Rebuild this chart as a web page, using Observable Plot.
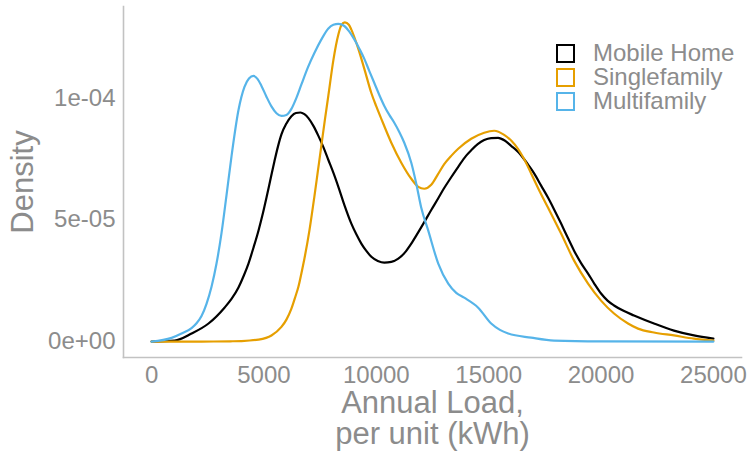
<!DOCTYPE html>
<html>
<head>
<meta charset="utf-8">
<script src="https://cdn.jsdelivr.net/npm/d3@7"></script>
<script src="https://cdn.jsdelivr.net/npm/@observablehq/plot@0.6"></script>
<style>
  body { margin: 0; background: white; }
  #wrap { position: relative; width: 751px; height: 459px; font-family: "Liberation Sans", Arial, sans-serif; }
  #wrap svg g[aria-label="x-axis label"] text,
  #wrap svg g[aria-label="y-axis label"] text { font-size: 31px; }
  #legend { position: absolute; left: 556px; top: 41px; color: #8c8c8c; font-size: 24px; }
  .row { display: flex; align-items: center; height: 24px; line-height: 24px; white-space: nowrap; }
  .row span { display: inline-block; height: 24px; line-height: 24px; }
  .sw { width: 15px; height: 15px; border: 2px solid; margin-right: 18px; box-sizing: content-box; }
</style>
</head>
<body>
<div id="wrap"></div>
<script>
const series = ["Mobile Home", "Singlefamily", "Multifamily"];
const colors = ["#000000", "#E69F00", "#56B4E9"];
const xTicks = [0, 5000, 10000, 15000, 20000, 25000];
const yTicks = [0, 5e-5, 1e-4];
const yTickLabels = ["0e+00", "5e-05", "1e-04"];

const mobileLoad = [0,1022,1778,2533,3244,3556,3867,4100,4311,4533,4756,4950,5111,5300,5467,5622,5778,6000,6222,6422,6622,6800,6978,7200,7422,7644,7867,8100,8311,8600,8889,9111,9333,9556,9778,10067,10356,10667,10978,11267,11556,11844,12133,12444,12756,13000,13244,13644,14000,14222,14511,14800,15111,15422,15711,16000,16289,16578,16800,17022,17333,17644,17933,18222,18511,18800,19111,19422,19711,20000,20289,20578,21000,21467,22356,23244,24133,25000];
const mobileDensity = [0,0.04e-5,0.33e-5,0.74e-5,1.39e-5,1.75e-5,2.22e-5,2.70e-5,3.20e-5,3.85e-5,4.55e-5,5.25e-5,5.90e-5,6.70e-5,7.40e-5,8.00e-5,8.50e-5,8.95e-5,9.25e-5,9.38e-5,9.40e-5,9.33e-5,9.17e-5,8.85e-5,8.44e-5,7.98e-5,7.45e-5,6.90e-5,6.35e-5,5.55e-5,4.84e-5,4.40e-5,4.02e-5,3.72e-5,3.48e-5,3.31e-5,3.24e-5,3.27e-5,3.40e-5,3.65e-5,4.02e-5,4.45e-5,4.90e-5,5.40e-5,5.88e-5,6.27e-5,6.62e-5,7.17e-5,7.63e-5,7.85e-5,8.10e-5,8.27e-5,8.35e-5,8.36e-5,8.25e-5,8.03e-5,7.80e-5,7.48e-5,7.20e-5,6.90e-5,6.40e-5,5.90e-5,5.38e-5,4.84e-5,4.28e-5,3.73e-5,3.22e-5,2.79e-5,2.36e-5,1.97e-5,1.68e-5,1.48e-5,1.26e-5,1.07e-5,0.74e-5,0.45e-5,0.25e-5,0.12e-5];

const singleLoad = [0,2222,3500,4000,4756,5333,5778,6000,6222,6400,6533,6700,6800,7022,7244,7400,7556,7711,7867,8089,8311,8444,8600,8778,8889,9200,9467,9778,10000,10222,10667,11111,11556,11867,12133,12444,12733,13022,13333,13644,14222,14800,15244,15689,16000,16311,16600,16889,17250,17644,18222,18800,19422,20000,20578,21200,21644,22356,23244,24133,25000];
const singleDensity = [0,0,0.01e-5,0.02e-5,0.08e-5,0.25e-5,0.60e-5,0.90e-5,1.35e-5,1.85e-5,2.25e-5,2.95e-5,3.40e-5,4.55e-5,5.95e-5,7.00e-5,8.05e-5,9.10e-5,10.10e-5,11.55e-5,12.60e-5,12.98e-5,13.10e-5,13.00e-5,12.80e-5,12.01e-5,11.19e-5,10.20e-5,9.65e-5,9.14e-5,8.16e-5,7.34e-5,6.68e-5,6.35e-5,6.27e-5,6.43e-5,6.85e-5,7.28e-5,7.62e-5,7.91e-5,8.32e-5,8.57e-5,8.65e-5,8.48e-5,8.25e-5,7.90e-5,7.45e-5,6.90e-5,6.20e-5,5.49e-5,4.43e-5,3.32e-5,2.38e-5,1.68e-5,1.15e-5,0.74e-5,0.53e-5,0.37e-5,0.25e-5,0.12e-5,0.04e-5];

const multiLoad = [0,889,1333,1778,2000,2222,2444,2667,2889,3111,3333,3556,3867,4133,4333,4533,4711,4889,5111,5333,5556,5778,6000,6222,6444,6667,6956,7244,7556,7867,8089,8311,8578,8800,9022,9244,9467,9689,9911,10133,10356,10578,10800,11022,11244,11556,11778,12000,12311,12756,13200,13556,13911,14533,15111,15500,15867,16889,17911,20000,25000];
const multiDensity = [0,0.15e-5,0.33e-5,0.55e-5,0.75e-5,1.05e-5,1.55e-5,2.25e-5,3.20e-5,4.45e-5,6.00e-5,7.60e-5,9.50e-5,10.45e-5,10.80e-5,10.90e-5,10.78e-5,10.49e-5,10.05e-5,9.65e-5,9.37e-5,9.26e-5,9.30e-5,9.55e-5,10.00e-5,10.55e-5,11.25e-5,11.84e-5,12.40e-5,12.85e-5,13.00e-5,13.04e-5,12.95e-5,12.72e-5,12.40e-5,12.02e-5,11.60e-5,11.10e-5,10.61e-5,10.12e-5,9.67e-5,9.30e-5,8.98e-5,8.60e-5,8.16e-5,7.34e-5,6.48e-5,5.49e-5,4.55e-5,3.20e-5,2.38e-5,2.00e-5,1.80e-5,1.39e-5,0.74e-5,0.48e-5,0.33e-5,0.16e-5,0.04e-5,0.01e-5,0];

const loads = [mobileLoad, singleLoad, multiLoad];
const densities = [mobileDensity, singleDensity, multiDensity];
const table = series.flatMap((s, k) => loads[k].map((x, i) => ({series: s, load: x, density: densities[k][i]})));

const textGray = "#8c8c8c";
const axisGray = "#c2c2c2";

const chart = Plot.plot({
  width: 751,
  height: 459,
  marginLeft: 123,
  marginRight: 10,
  marginTop: 6,
  marginBottom: 102,
  style: {fontFamily: "'Liberation Sans', Arial, sans-serif", background: "white", color: textGray, overflow: "visible"},
  x: {domain: [-1250, 26250], labelArrow: "none"},
  y: {domain: [-6.55e-6, 1.375e-4], labelArrow: "none"},
  color: {domain: series, range: colors},
  marks: [
    Plot.frame({anchor: "left", stroke: axisGray, strokeWidth: 1.6}),
    Plot.frame({anchor: "bottom", stroke: axisGray, strokeWidth: 1.6}),
    Plot.axisX({ticks: xTicks, tickSize: 0, tickPadding: 8, fontSize: 24, fill: textGray, tickFormat: d => String(d),
      label: "Annual Load,\nper unit (kWh)", labelAnchor: "center", labelOffset: 86, labelArrow: "none"}),
    Plot.axisY({ticks: yTicks, tickSize: 0, tickPadding: 8, fontSize: 24, fill: textGray,
      tickFormat: (d, i) => yTickLabels[yTicks.indexOf(d)],
      label: "Density", labelAnchor: "center", labelOffset: 113, labelArrow: "none"}),
    Plot.line(table, {x: "load", y: "density", z: "series", stroke: "series", strokeWidth: 2.2, curve: "monotone-x"})
  ]
});

const wrap = document.getElementById("wrap");
wrap.appendChild(chart);

const legend = document.createElement("div");
legend.id = "legend";
series.forEach((s, i) => {
  const row = document.createElement("div");
  row.className = "row";
  const sw = document.createElement("div");
  sw.className = "sw";
  sw.style.borderColor = colors[i];
  const label = document.createElement("span");
  label.textContent = s;
  row.appendChild(sw);
  row.appendChild(label);
  legend.appendChild(row);
});
wrap.appendChild(legend);
</script>
</body>
</html>
